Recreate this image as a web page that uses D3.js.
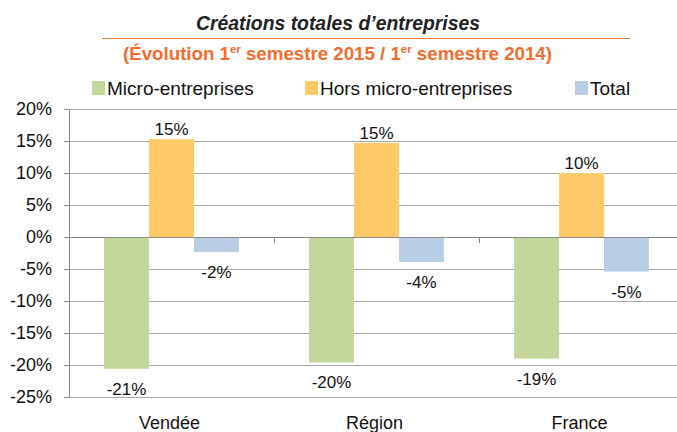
<!DOCTYPE html>
<html>
<head>
<meta charset="utf-8">
<script src="https://cdn.jsdelivr.net/npm/d3@7"></script>
<style>
  body { margin: 0; background: #fff; }
  svg { display: block; font-family: "Liberation Sans", Arial, sans-serif; }
</style>
</head>
<body>
<div id="chart"></div>
<script>
// data
var categories = ["Vendée", "Région", "France"];
var seriesNames = ["Micro-entreprises", "Hors micro-entreprises", "Total"];
var micro = [-20.6, -19.6, -19.0];
var horsMicro = [15.3, 14.7, 10.0];
var total = [-2.35, -3.9, -5.4];
var yTicks = [-25, -20, -15, -10, -5, 0, 5, 10, 15, 20];

var colors = ["#c4d79b", "#fdca67", "#b9cde5"];

var W = 677, H = 432;
var svg = d3.select("#chart").append("svg").attr("width", W).attr("height", H);

// titles
svg.append("text")
  .attr("x", 338).attr("y", 30)
  .attr("text-anchor", "middle")
  .attr("font-size", 20).attr("font-weight", "bold").attr("font-style", "italic")
  .attr("fill", "#222")
  .attr("textLength", 284).attr("lengthAdjust", "spacingAndGlyphs")
  .text("Créations totales d’entreprises");

svg.append("line")
  .attr("x1", 102).attr("x2", 630).attr("y1", 38.5).attr("y2", 38.5)
  .attr("stroke", "#f47a3a").attr("stroke-width", 1.2);

var sub = svg.append("text")
  .attr("x", 123).attr("y", 60)
  .attr("font-size", 18).attr("font-weight", "bold")
  .attr("fill", "#f26d2d")
  .attr("textLength", 429).attr("lengthAdjust", "spacingAndGlyphs");
sub.append("tspan").text("(Évolution 1");
sub.append("tspan").attr("font-size", 11).attr("dy", -7).text("er");
sub.append("tspan").attr("dy", 7).text(" semestre 2015 / 1");
sub.append("tspan").attr("font-size", 11).attr("dy", -7).text("er");
sub.append("tspan").attr("dy", 7).text(" semestre 2014)");

// scales
var x0 = d3.scaleBand().domain(categories).range([69, 684]);
var x1 = d3.scaleBand().domain(seriesNames).range([0, x0.bandwidth()])
  .paddingInner(0).paddingOuter(0.78);
var y = d3.scaleLinear().domain([-25, 20]).range([397, 109]);

// gridlines
svg.append("g")
  .attr("transform", "translate(69,0)")
  .call(d3.axisLeft(y).tickValues(yTicks).tickSize(-(W - 69)).tickFormat(""))
  .call(function(g){
    g.select(".domain").remove();
    g.selectAll("line").attr("stroke", "#a6a6a6");
  });

// y axis
svg.append("g")
  .attr("transform", "translate(69,0)")
  .call(d3.axisLeft(y).tickValues(yTicks).tickSize(5).tickSizeOuter(0).tickPadding(12)
    .tickFormat(function(d){ return d + "%"; }))
  .call(function(g){
    g.select(".domain").attr("stroke", "#888");
    g.selectAll("line").attr("stroke", "#888");
    g.selectAll("text").attr("font-size", 18).attr("fill", "#111")
      .attr("font-family", "'Liberation Sans', Arial, sans-serif");
  });

// bars
var rows = categories.map(function(c, i){
  return [
    {cat: c, s: seriesNames[0], v: micro[i]},
    {cat: c, s: seriesNames[1], v: horsMicro[i]},
    {cat: c, s: seriesNames[2], v: total[i]}
  ];
});

var groups = svg.append("g").selectAll("g")
  .data(rows).enter().append("g")
  .attr("transform", function(d){ return "translate(" + x0(d[0].cat) + ",0)"; });

groups.selectAll("rect")
  .data(function(d){ return d; }).enter().append("rect")
  .attr("x", function(d){ return x1(d.s); })
  .attr("width", x1.bandwidth())
  .attr("y", function(d){ return y(Math.max(0, d.v)); })
  .attr("height", function(d){ return Math.abs(y(d.v) - y(0)); })
  .attr("fill", function(d, i){ return colors[i]; });

groups.selectAll("text.lbl")
  .data(function(d){ return d; }).enter().append("text")
  .attr("class", "lbl")
  .attr("x", function(d){ return x1(d.s) + x1.bandwidth() / 2; })
  .attr("y", function(d){ return d.v >= 0 ? y(d.v) - 4 : y(d.v) + 26; })
  .attr("text-anchor", "middle")
  .attr("font-size", 17).attr("fill", "#111")
  .text(function(d){ return Math.round(d.v) + "%"; });

// zero line with category ticks
svg.append("g")
  .attr("transform", "translate(0," + y(0) + ")")
  .call(d3.axisBottom(x0).tickSize(0).tickFormat(""))
  .call(function(g){
    g.select(".domain").attr("stroke", "#888").attr("d", "M69,0.5H" + W);
    g.selectAll(".tick").remove();
  });
svg.append("g").selectAll("line")
  .data(categories.slice(1)).enter().append("line")
  .attr("x1", function(d){ return Math.round(x0(d)) + 0.5; })
  .attr("x2", function(d){ return Math.round(x0(d)) + 0.5; })
  .attr("y1", y(0)).attr("y2", y(0) + 6)
  .attr("stroke", "#888");

// category labels
svg.append("g").selectAll("text")
  .data(categories).enter().append("text")
  .attr("x", function(d){ return x0(d) + x0.bandwidth() / 2 - 2; })
  .attr("y", 429)
  .attr("text-anchor", "middle")
  .attr("font-size", 18).attr("fill", "#111")
  .text(function(d){ return d; });

// legend
var legendX = [92, 305, 575];
var leg = svg.append("g").selectAll("g")
  .data(seriesNames).enter().append("g")
  .attr("transform", function(d, i){ return "translate(" + legendX[i] + ",81)"; });
leg.append("rect")
  .attr("width", 13).attr("height", 14)
  .attr("fill", function(d, i){ return colors[i]; });
leg.append("text")
  .attr("x", 15).attr("y", 14)
  .attr("font-size", 19).attr("fill", "#111")
  .text(function(d){ return d; });
</script>
</body>
</html>
